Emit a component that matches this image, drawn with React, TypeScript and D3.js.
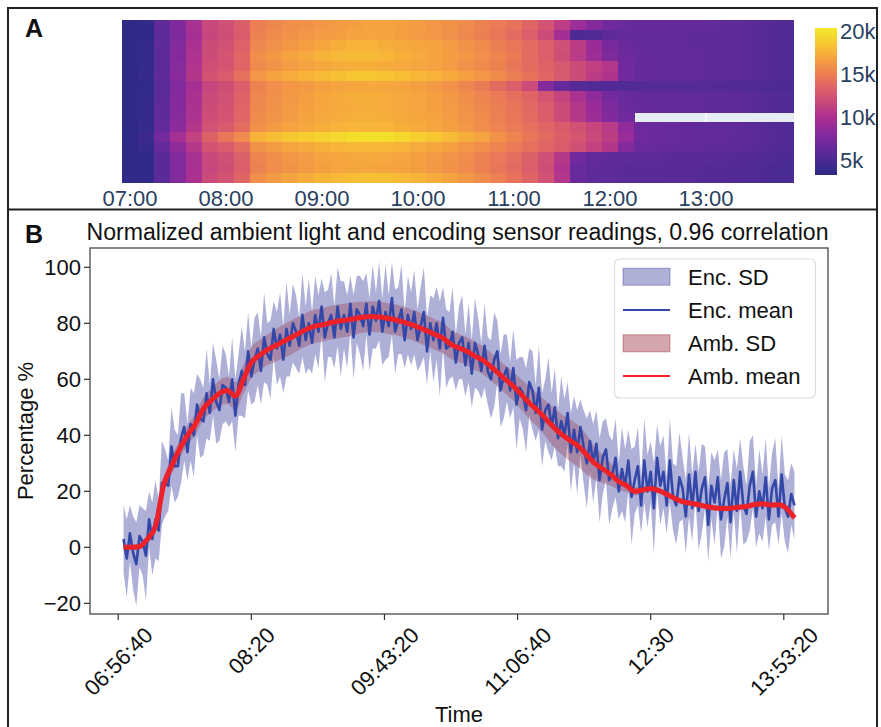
import React, { useMemo } from 'react';
import * as d3 from 'd3';

const W = 881;
const H = 727;
const FONT = '"Liberation Sans", Arial, Helvetica, sans-serif';

// ---------------- Panel A: heatmap data (values in thousands) ----------------
const heatColMinutes = d3.range(42).map((i) => i * 10); // minutes after 07:00
const heatTickMinutes = [0, 60, 120, 180, 240, 300, 360];
const heatTickLabels = ['07:00', '08:00', '09:00', '10:00', '11:00', '12:00', '13:00'];
const cbTickValues = [5, 10, 15, 20];
const cbTickLabels = ['5k', '10k', '15k', '20k'];
const colorDomain = [3.3, 20.4];
const N = null;
const heatRows: (number | null)[][] = [
  [3.5, 3.7, 6.2, 7.8, 9.8, 11.8, 12.3, 13.2, 15.0, 15.4, 15.8, 16.0, 16.2, 16.4, 16.6, 16.8, 16.8, 16.7, 16.5, 16.2, 16.0, 15.6, 15.2, 14.8, 14.3, 13.5, 12.5, 11.0, 9.2, 8.0, 7.0, 6.6, 6.5, 6.5, 6.4, 6.4, 6.3, 6.2, 6.1, 5.9, 5.6, 5.4],
  [3.5, 3.7, 6.0, 7.6, 9.6, 11.6, 12.2, 13.0, 15.2, 15.6, 16.0, 16.2, 16.5, 16.6, 16.8, 16.9, 16.8, 16.6, 16.4, 16.2, 15.9, 15.5, 15.0, 14.6, 14.0, 13.2, 12.0, 9.5, 5.2, 5.4, 6.0, 6.4, 6.4, 6.3, 6.3, 6.2, 6.2, 6.1, 6.0, 5.8, 5.5, 5.3],
  [3.6, 3.8, 6.1, 7.9, 9.9, 12.0, 12.4, 13.4, 15.4, 15.9, 16.3, 16.6, 17.0, 17.4, 17.6, 17.6, 17.4, 17.2, 17.0, 16.8, 16.5, 16.0, 15.6, 15.0, 14.6, 14.0, 13.2, 12.3, 11.0, 9.0, 7.4, 6.7, 6.4, 6.3, 6.3, 6.2, 6.2, 6.1, 6.0, 5.8, 5.5, 5.3],
  [3.6, 3.8, 6.0, 8.0, 10.1, 12.0, 12.6, 13.6, 15.8, 16.3, 16.8, 17.2, 17.6, 17.9, 18.0, 18.0, 17.8, 17.5, 17.2, 16.9, 16.6, 16.2, 15.8, 15.3, 14.8, 14.0, 13.2, 12.2, 10.8, 9.2, 7.6, 6.9, 6.5, 6.4, 6.3, 6.3, 6.2, 6.1, 6.0, 5.8, 5.5, 5.3],
  [3.6, 3.8, 6.0, 8.1, 10.2, 12.2, 12.6, 13.6, 15.6, 16.1, 16.5, 16.8, 17.1, 17.3, 17.4, 17.4, 17.3, 17.2, 17.0, 16.8, 16.5, 16.0, 15.6, 15.2, 14.6, 14.0, 13.4, 12.8, 12.0, 11.2, 10.5, 7.0, 6.5, 6.4, 6.3, 6.3, 6.2, 6.1, 6.0, 5.8, 5.5, 5.3],
  [3.6, 3.9, 6.2, 8.2, 10.4, 12.5, 13.0, 14.2, 16.2, 16.8, 17.3, 17.7, 18.0, 18.3, 18.5, 18.5, 18.4, 18.2, 17.9, 17.6, 17.2, 16.7, 16.2, 15.6, 15.0, 14.3, 13.6, 12.8, 12.0, 11.0, 10.2, 7.0, 6.5, 6.4, 6.3, 6.3, 6.2, 6.1, 6.0, 5.8, 5.5, 5.3],
  [3.5, 3.7, 5.8, 7.8, 9.6, 11.6, 12.2, 13.2, 15.2, 15.8, 16.2, 16.4, 16.7, 16.9, 17.0, 17.1, 17.0, 16.9, 16.7, 16.4, 16.0, 15.4, 14.8, 14.0, 13.2, 12.0, 8.0, 6.4, 5.6, 5.4, 5.4, 5.4, 5.5, 5.5, 5.5, 5.5, 5.5, 5.4, 5.4, 5.3, 5.2, 5.1],
  [3.6, 3.8, 6.0, 8.0, 9.9, 11.9, 12.4, 13.4, 15.4, 15.9, 16.3, 16.6, 17.0, 17.2, 17.4, 17.4, 17.3, 17.1, 16.9, 16.6, 16.3, 15.8, 15.3, 14.8, 14.2, 13.5, 12.6, 11.5, 10.0, 8.5, 7.2, 6.6, 6.4, 6.3, 6.3, 6.2, 6.2, 6.1, 6.0, 5.8, 5.5, 5.3],
  [3.6, 3.8, 6.1, 8.0, 10.0, 12.0, 12.5, 13.5, 15.5, 16.0, 16.4, 16.7, 17.0, 17.2, 17.3, 17.4, 17.3, 17.1, 16.9, 16.7, 16.4, 16.0, 15.5, 15.0, 14.5, 13.8, 13.0, 12.0, 10.5, 9.0, 7.6, 6.8, 6.5, 6.4, 6.3, 6.3, 6.2, 6.1, 6.0, 5.8, 5.5, 5.3],
  [3.6, 3.8, 6.1, 8.1, 10.1, 12.1, 12.6, 13.6, 15.6, 16.1, 16.5, 16.8, 17.1, 17.3, 17.5, 17.5, 17.4, 17.2, 17.0, 16.8, 16.5, 16.1, 15.6, 15.1, 14.6, 13.9, 13.1, 12.0, 10.6, 9.2, 7.8, 7.0, N, N, N, N, N, N, N, N, N, N],
  [3.6, 3.9, 6.4, 8.4, 10.4, 12.4, 12.9, 14.0, 15.9, 16.4, 16.8, 17.1, 17.4, 17.6, 17.8, 17.8, 17.7, 17.5, 17.3, 17.0, 16.7, 16.3, 15.8, 15.3, 14.8, 14.2, 13.6, 13.0, 12.4, 11.6, 10.8, 8.6, 6.8, 6.6, 6.5, 6.4, 6.3, 6.2, 6.1, 5.9, 5.6, 5.4],
  [3.7, 4.2, 7.2, 9.6, 11.4, 13.4, 14.6, 15.6, 17.6, 18.2, 18.6, 18.9, 19.2, 19.5, 19.8, 19.9, 19.8, 19.5, 19.0, 18.6, 18.1, 17.4, 16.8, 16.0, 15.3, 14.6, 13.9, 13.2, 12.6, 11.8, 11.0, 9.0, 7.0, 6.8, 6.6, 6.5, 6.4, 6.3, 6.2, 6.0, 5.7, 5.5],
  [3.6, 3.9, 6.5, 8.5, 10.5, 12.5, 13.0, 14.0, 16.0, 16.5, 16.9, 17.2, 17.5, 17.7, 17.9, 17.9, 17.8, 17.6, 17.3, 17.0, 16.7, 16.2, 15.8, 15.3, 14.8, 14.2, 13.6, 13.0, 12.3, 11.4, 10.4, 8.0, 6.7, 6.5, 6.4, 6.3, 6.2, 6.1, 6.0, 5.8, 5.5, 5.3],
  [3.5, 3.7, 5.9, 7.9, 9.8, 11.8, 12.3, 13.3, 15.3, 15.8, 16.2, 16.5, 16.8, 17.0, 17.1, 17.2, 17.1, 16.9, 16.7, 16.4, 16.1, 15.7, 15.2, 14.7, 14.1, 13.3, 12.3, 10.6, 7.0, 6.4, 6.2, 6.1, 6.0, 6.0, 5.9, 5.9, 5.8, 5.7, 5.6, 5.5, 5.3, 5.1],
  [3.5, 3.7, 5.8, 7.8, 9.7, 11.7, 12.2, 13.2, 15.2, 15.7, 16.1, 16.4, 16.7, 16.9, 17.0, 17.0, 16.9, 16.8, 16.6, 16.3, 16.0, 15.6, 15.1, 14.6, 14.0, 13.2, 12.2, 10.2, 6.6, 6.2, 6.0, 5.9, 5.8, 5.8, 5.7, 5.7, 5.6, 5.5, 5.4, 5.3, 5.1, 5.0],
  [3.5, 3.7, 5.9, 7.9, 9.9, 11.9, 12.5, 13.6, 15.8, 16.4, 16.9, 17.3, 17.7, 18.0, 18.2, 18.3, 18.2, 18.0, 17.7, 17.3, 16.9, 16.3, 15.7, 15.1, 14.4, 13.5, 12.4, 10.4, 6.6, 6.2, 6.0, 5.9, 5.8, 5.8, 5.7, 5.7, 5.6, 5.5, 5.4, 5.3, 5.1, 5.0],
];
const cmapStops = ['#2b2a84', '#4a2a94', '#6a2a9e', '#8e2a9e', '#b0308f', '#ca4a7a', '#df6466', '#ef8350', '#f6a53e', '#f8c930', '#f1e92a'];

// ---------------- Panel B: sensor readings ----------------
const encStartSec = 25200; // 07:00
const encStepSec = 120;
const encMean = [
  3, -4, 5, -2, -6, 4, 2, -3, 10, 3,
  10, 6, 23, 23, 22, 36, 29, 29, 39, 43,
  34, 44, 40, 51, 46, 45, 55, 48, 60, 52,
  49, 58, 57, 52, 60, 47, 58, 63, 58, 70,
  61, 67, 71, 63, 75, 69, 67, 78, 71, 76,
  67, 78, 72, 80, 77, 72, 83, 74, 80, 73,
  83, 77, 86, 75, 80, 83, 75, 86, 78, 83,
  77, 87, 75, 85, 83, 79, 87, 76, 86, 81,
  88, 77, 84, 79, 89, 77, 81, 85, 74, 83,
  78, 84, 74, 79, 84, 70, 80, 74, 80, 71,
  82, 71, 72, 77, 66, 73, 75, 65, 73, 62,
  73, 69, 63, 72, 63, 60, 67, 70, 56, 61,
  64, 56, 64, 51, 57, 55, 49, 59, 56, 48,
  57, 42, 49, 51, 43, 50, 39, 45, 40, 48,
  34, 42, 34, 43, 36, 30, 38, 30, 37, 24,
  32, 35, 24, 26, 32, 20, 28, 22, 31, 18,
  24, 29, 15, 31, 20, 27, 14, 32, 22, 27,
  15, 31, 18, 15, 25, 21, 11, 26, 14, 27,
  13, 21, 25, 8, 22, 16, 25, 10, 17, 23,
  9, 24, 13, 27, 15, 12, 22, 27, 11, 20,
  14, 25, 10, 21, 24, 11, 26, 14, 11, 19, 15,
];
const encSd = [
  12, 14, 10, 13, 15, 11, 12, 16, 10, 13,
  14, 11, 15, 12, 9, 14, 13, 11, 16, 12,
  10, 13, 15, 11, 14, 12, 16, 10, 13, 15,
  11, 14, 12, 9, 15, 13, 11, 16, 12, 14,
  10, 15, 13, 12, 16, 11, 14, 10, 13, 15,
  12, 17, 11, 14, 13, 10, 15, 12, 16, 11,
  14, 13, 10, 16, 12, 15, 11, 14, 17, 12,
  13, 10, 15, 12, 14, 16, 11, 13, 15, 10,
  14, 12, 17, 11, 13, 15, 12, 16, 10, 14,
  13, 15, 11, 14, 16, 12, 10, 15, 13, 17,
  11, 14, 12, 16, 10, 13, 15, 11, 14, 12,
  16, 13, 10, 15, 12, 14, 17, 11, 13, 15,
  12, 10, 14, 16, 11, 13, 15, 12, 14, 10,
  15, 13, 11, 17, 12, 14, 10, 16, 13, 11,
  14, 12, 15, 10, 13, 16, 11, 14, 12, 15,
  13, 11, 16, 12, 14, 10, 15, 13, 11, 17,
  12, 14, 10, 15, 13, 11, 16, 12, 14, 13,
  10, 15, 12, 14, 16, 11, 13, 15, 12, 10,
  14, 16, 11, 13, 12, 15, 10, 14, 17, 12,
  13, 11, 15, 12, 14, 10, 16, 13, 11, 15,
  12, 14, 11, 13, 15, 10, 14, 12, 13, 11, 12,
];
const ambStartSec = 25200;
const ambStepSec = 300;
const ambMean = [
  0, 0, 0.3, 3, 7.5, 22, 29, 35, 40, 44,
  49.5, 52.5, 55, 56, 54, 60, 66, 68.5, 70.5, 72,
  73.5, 75, 76.5, 78, 79, 79.5, 80.3, 80.8, 81.2, 81.7,
  82.2, 82.4, 82.3, 81.8, 81.3, 80.5, 79.6, 78.5, 77.3, 76,
  74.7, 72.5, 71.2, 70, 68.3, 66.8, 64.5, 62, 59.5, 57,
  54, 51, 48.5, 45.5, 42.5, 40, 38, 36, 33, 30,
  28, 26, 23.5, 22, 20, 20.5, 21, 20.3, 19, 17.5,
  16.3, 15.8, 15.2, 14.6, 14.1, 13.9, 14, 14.3, 14.6, 15.3,
  15.6, 15.1, 15.2, 13.9, 10.5,
];
const ambSd = [
  0.5, 0.8, 1, 1.5, 2, 2.5, 3, 3.2, 3.5, 3.8,
  4, 4.2, 4.5, 4.8, 5, 5.2, 5.5, 5.5, 5.5, 5.8,
  6, 6, 6, 6, 6, 6, 6, 6, 6, 5.8,
  5.5, 5.5, 5.5, 5.5, 5.5, 5.5, 5.5, 5.5, 5.5, 5.5,
  5.5, 5.2, 5, 5, 5, 5, 5, 5, 5, 5.2,
  5.5, 5.8, 6, 6.5, 7, 7.2, 7.5, 7.5, 7, 6,
  5, 4, 3, 2.2, 1.5, 1.3, 1.2, 1.1, 1, 1,
  1, 1, 1, 1, 1, 1, 1, 1, 1, 1,
  1, 1, 1, 1, 1,
];
const xTickSecs = [25000, 30000, 35000, 40000, 45000, 50000];
const xTickLabels = ['06:56:40', '08:20', '09:43:20', '11:06:40', '12:30', '13:53:20'];
const yTickValues = [-20, 0, 20, 40, 60, 80, 100];
const legendLabels = ['Enc. SD', 'Enc. mean', 'Amb. SD', 'Amb. mean'];

const ENC_FILL = '#34399d';
const ENC_LINE = '#3347a8';
const AMB_FILL = '#941e2b';
const AMB_LINE = '#ec2228';

export default function App() {
  const measure = useMemo(() => {
    const ctx = document.createElement('canvas').getContext('2d');
    return (s: string, size: number) => {
      if (!ctx) return s.length * size * 0.55;
      ctx.font = `${size}px "Liberation Sans"`;
      return ctx.measureText(s).width;
    };
  }, []);

  // ---- Panel A scales
  const hx = d3.scaleLinear().domain([-5, 415]).range([122, 794]);
  const hy = d3.scaleBand<number>().domain(d3.range(heatRows.length)).range([20, 183]);
  const interp = d3.interpolateRgbBasis(cmapStops);
  const tNorm = d3.scaleLinear().domain(colorDomain).range([0, 1]).clamp(true);
  const color = (v: number) => interp(tNorm(v));
  const cbY = d3.scaleLinear().domain(colorDomain).range([175, 28]);

  // ---- Panel B scales
  const x = d3.scaleLinear().domain([23940, 51660]).range([90, 828]);
  const y = d3.scaleLinear().domain([-23.8, 106.9]).range([614, 248]);

  const encData = encMean.map((m, i) => ({ t: encStartSec + i * encStepSec, m, sd: encSd[i] }));
  const ambData = ambMean.map((m, i) => ({ t: ambStartSec + i * ambStepSec, m, sd: ambSd[i] }));

  const encArea = d3.area<any>().x((d) => x(d.t)).y0((d) => y(d.m - d.sd)).y1((d) => y(d.m + d.sd))(encData) || '';
  const encLine = d3.line<any>().x((d) => x(d.t)).y((d) => y(d.m))(encData) || '';
  const ambArea = d3.area<any>().x((d) => x(d.t)).y0((d) => y(d.m - d.sd)).y1((d) => y(d.m + d.sd)).curve(d3.curveMonotoneX)(ambData) || '';
  const ambLine = d3.line<any>().x((d) => x(d.t)).y((d) => y(d.m)).curve(d3.curveMonotoneX)(ambData) || '';

  const tickSize = 22;
  const legendRowY = [276.7, 310, 343.3, 376];

  return (
    <svg
      width={W}
      height={H}
      style={{ position: 'absolute', left: 0, top: 0, background: '#fff' }}
      fontFamily={FONT}
    >
      <rect x={0} y={0} width={W} height={H} fill="#fff" />
      {/* ---------- Panel A ---------- */}
      <rect x={122} y={20} width={672} height={163} fill="#e5ecf6" />
      {heatTickMinutes.map((m) => (
        <line key={'g' + m} x1={hx(m)} x2={hx(m)} y1={20} y2={183} stroke="#fff" strokeWidth={1.5} />
      ))}
      <g shapeRendering="crispEdges">
        {heatRows.map((row, r) =>
          row.map((v, c) =>
            v == null ? null : (
              <rect
                key={`c${r}-${c}`}
                x={hx(heatColMinutes[c] - 5)}
                y={hy(r)}
                width={hx(heatColMinutes[c] + 5) - hx(heatColMinutes[c] - 5) + (c < 41 ? 1 : 0)}
                height={hy.bandwidth() + (r < heatRows.length - 1 ? 1 : 0)}
                fill={color(v)}
              />
            )
          )
        )}
      </g>
      {heatTickMinutes.map((m, i) => (
        <text key={'ht' + m} x={hx(m)} y={206} textAnchor="middle" fontSize={22} fill="#2a3f5f">
          {heatTickLabels[i]}
        </text>
      ))}
      <defs>
        <linearGradient id="cbGrad" x1="0" y1="1" x2="0" y2="0">
          {cmapStops.map((c, i) => (
            <stop key={i} offset={`${(i / (cmapStops.length - 1)) * 100}%`} stopColor={c} />
          ))}
        </linearGradient>
      </defs>
      <rect x={815} y={cbY(colorDomain[1])} width={22} height={cbY(colorDomain[0]) - cbY(colorDomain[1])} fill="url(#cbGrad)" />
      {cbTickValues.map((v, i) => (
        <text key={'cb' + v} x={840} y={cbY(v)} dy="0.36em" fontSize={22} fill="#2a3f5f">
          {cbTickLabels[i]}
        </text>
      ))}
      <text x={25} y={37} fontSize={25} fontWeight="bold" fill="#111">A</text>

      {/* ---------- Panel B ---------- */}
      <text x={25} y={243} fontSize={25} fontWeight="bold" fill="#111">B</text>
      <text x={457.5} y={240} textAnchor="middle" fontSize={23.1} fill="#111">
        Normalized ambient light and encoding sensor readings, 0.96 correlation
      </text>

      <path d={encArea} fill={ENC_FILL} fillOpacity={0.4} stroke="none" />
      <path d={ambArea} fill={AMB_FILL} fillOpacity={0.28} stroke="none" />
      <path d={encLine} fill="none" stroke={ENC_LINE} strokeWidth={2.6} strokeLinejoin="round" />
      <path d={ambLine} fill="none" stroke={AMB_LINE} strokeWidth={5} strokeLinejoin="round" />

      <rect x={90} y={248} width={738} height={366} fill="none" stroke="#555" strokeWidth={1.4} />
      {yTickValues.map((v) => (
        <g key={'yt' + v}>
          <line x1={84} x2={90} y1={y(v)} y2={y(v)} stroke="#333" strokeWidth={1.2} />
          <text x={81} y={y(v)} dy="0.36em" textAnchor="end" fontSize={tickSize} fill="#111">
            {v < 0 ? '\u2212' + Math.abs(v) : v}
          </text>
        </g>
      ))}
      {xTickSecs.map((t, i) => {
        const w = measure(xTickLabels[i], tickSize);
        const cy = 626 + (w + 14) / (2 * Math.SQRT2);
        return (
          <g key={'xt' + t}>
            <line x1={x(t)} x2={x(t)} y1={614} y2={620} stroke="#333" strokeWidth={1.2} />
            <text
              transform={`translate(${x(t)},${cy}) rotate(-45)`}
              textAnchor="middle"
              dy="0.36em"
              fontSize={tickSize}
              fill="#111"
            >
              {xTickLabels[i]}
            </text>
          </g>
        );
      })}
      <text x={459} y={722} textAnchor="middle" fontSize={22} fill="#111">Time</text>
      <text transform="translate(33,431) rotate(-90)" textAnchor="middle" fontSize={22} fill="#111">
        Percentage %
      </text>

      {/* legend */}
      <rect x={614.5} y={259} width={201} height={139} rx={5} fill="#fff" fillOpacity={0.85} stroke="#ddd" strokeWidth={1.2} />
      <rect x={623} y={legendRowY[0] - 8.5} width={47} height={17} fill={ENC_FILL} fillOpacity={0.4} stroke={ENC_FILL} strokeOpacity={0.4} />
      <line x1={623} x2={670} y1={legendRowY[1]} y2={legendRowY[1]} stroke={ENC_LINE} strokeWidth={2} />
      <rect x={623} y={legendRowY[2] - 8.5} width={47} height={17} fill={AMB_FILL} fillOpacity={0.4} stroke={AMB_FILL} strokeOpacity={0.4} />
      <line x1={623} x2={670} y1={legendRowY[3]} y2={legendRowY[3]} stroke={AMB_LINE} strokeWidth={2} />
      {legendLabels.map((l, i) => (
        <text key={l} x={688} y={legendRowY[i]} dy="0.36em" fontSize={22} fill="#111">
          {l}
        </text>
      ))}

      {/* frame */}
      <rect x={8} y={8} width={869} height={740} fill="none" stroke="#222" strokeWidth={2} />
      <line x1={8} x2={877} y1={209.5} y2={209.5} stroke="#222" strokeWidth={2} />
    </svg>
  );
}
